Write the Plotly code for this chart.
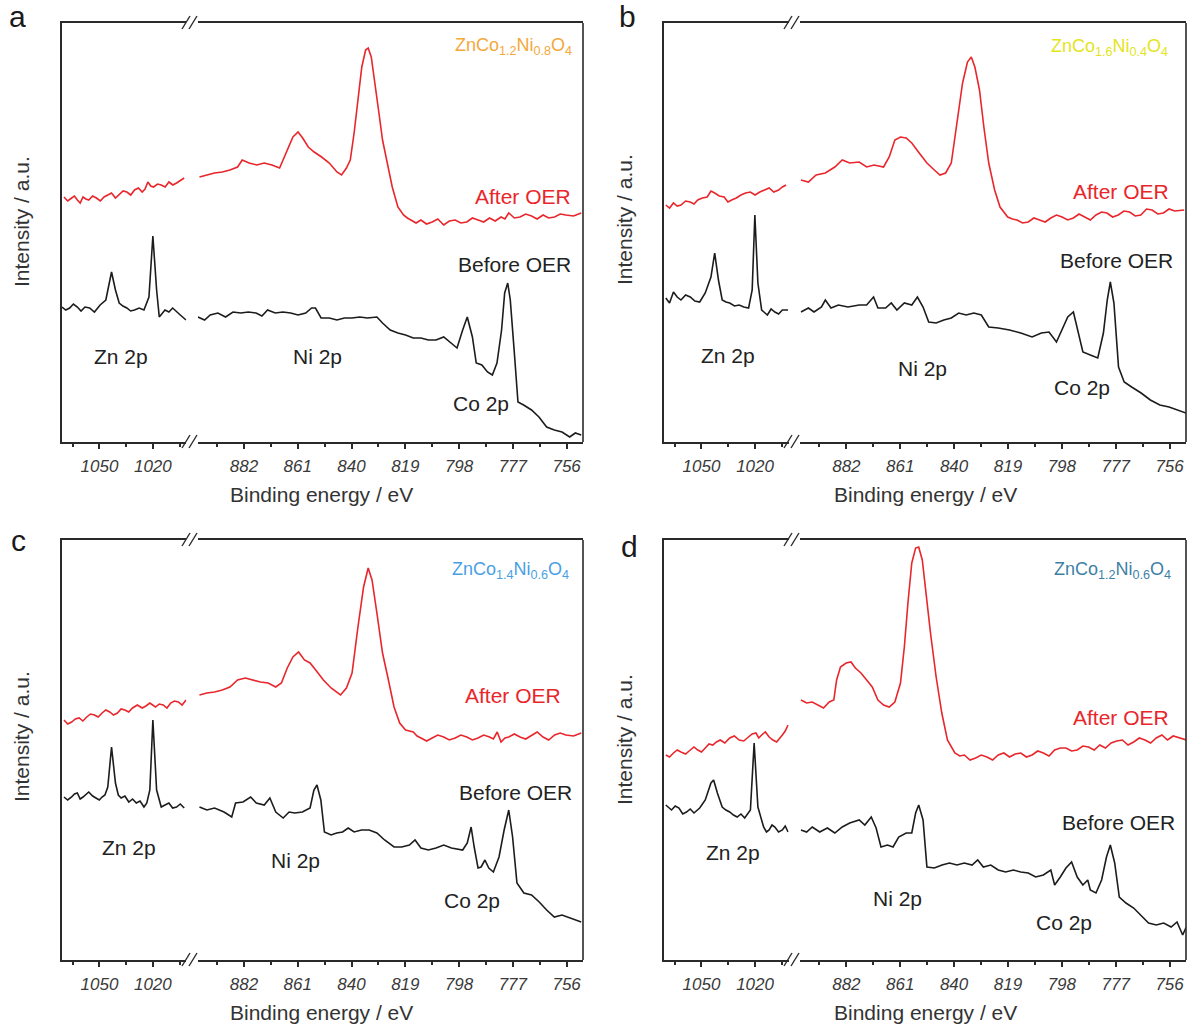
import plotly.graph_objects as go

W, H = 1189, 1027

# ---------------- data (binding energy in eV, intensity in a.u.) ----------------
TICKS_LEFT = [1050, 1020]
TICKS_RIGHT = [882, 861, 840, 819, 798, 777, 756]
MINOR_LEFT = [1065, 1035, 1005]
MINOR_RIGHT = [892.5, 871.5, 850.5, 829.5, 808.5, 787.5, 766.5]

# panel a
A_AFTER_L_E = [1069.9,1067.8,1065.6,1064.0,1062.4,1060.8,1059.2,1057.6,1056.0,1053.8,1051.7,1049.5,1047.4,1045.3,1043.2,1041.0,1038.9,1036.7,1034.6,1032.4,1030.3,1028.1,1026.0,1024.4,1022.8,1021.2,1019.6,1017.4,1015.3,1013.1,1011.0,1008.8,1006.7,1004.5,1002.4]
A_AFTER_L_I = [245,241,244,246,242,239,245,243,242,246,244,241,245,247,249,244,247,251,250,247,252,254,250,253,260,256,255,258,257,255,260,257,259,262,264]
A_AFTER_R_E = [899.4,896.5,893.5,890.5,887.5,884.5,882.7,880.0,877.0,874.1,871.1,868.1,865.1,862.9,860.9,859.1,856.9,854.6,851.7,848.7,845.7,843.9,842.0,840.5,839.0,837.5,836.0,834.5,833.5,832.3,830.8,829.3,827.9,826.4,824.1,821.9,819.7,818.2,816.7,814.8,812.9,810.7,808.5,806.3,804.0,801.8,799.5,797.3,795.0,792.8,790.6,788.4,786.1,783.9,781.6,780.1,778.6,776.4,774.2,772.0,769.7,767.5,765.2,763.0,760.7,758.5,756.3,753.3,750.3]
A_AFTER_R_I = [265,267,269,270,272,275,282,279,277,279,277,274,292,305,310,304,295,290,285,279,270,267,274,282,309,345,375,392,394,385,359,329,302,282,255,235,227,224,222,219,222,218,220,223,217,221,222,219,220,224,222,220,224,221,225,223,229,224,225,228,226,223,227,224,225,228,227,226,229]
A_BEFORE_L_E = [1071.0,1068.9,1066.7,1064.6,1062.4,1060.3,1058.1,1055.5,1052.8,1049.6,1046.4,1043.2,1041.0,1038.9,1036.8,1034.6,1032.5,1030.3,1027.7,1025.0,1022.2,1020.0,1017.9,1016.4,1013.2,1011.0,1008.9,1006.8,1004.6,1001.4]
A_BEFORE_L_I = [135,132,134,138,135,131,135,134,130,137,142,170,152,139,136,134,131,132,134,132,145,206,152,125,132,130,134,131,127,122]
A_BEFORE_R_E = [900.0,897.4,895.2,892.2,889.2,886.3,883.3,880.3,877.3,875.0,872.8,869.8,866.8,863.8,860.9,857.9,855.6,854.1,851.9,848.7,845.7,842.8,839.8,836.8,833.8,830.1,827.9,824.9,821.9,818.9,815.9,812.9,810.0,807.0,804.0,801.8,798.8,796.6,794.8,792.8,791.3,789.1,786.9,785.0,783.2,781.4,780.2,779.0,778.0,776.5,775.0,772.8,769.7,766.8,763.8,760.8,757.8,754.8,752.6,750.3]
A_BEFORE_R_I = [125,122,127,129,125,130,129,130,129,126,132,129,130,129,127,129,134,134,124,124,122,124,124,125,124,125,119,112,109,107,104,104,102,102,105,100,94,112,125,105,79,77,70,67,79,112,149,159,142,92,40,37,32,25,15,12,10,5,9,7]

# panel b
B_AFTER_L_E = [1070.0,1067.9,1065.7,1063.6,1061.5,1058.9,1056.3,1054.2,1052.1,1049.5,1046.8,1044.7,1042.6,1040.0,1037.3,1035.2,1033.1,1030.5,1027.9,1025.3,1022.6,1020.0,1017.3,1014.7,1012.1,1009.5,1006.8,1004.7,1002.6]
B_AFTER_L_I = [237,234,239,236,237,241,240,238,242,244,245,251,249,246,245,240,242,244,247,249,250,247,250,252,254,250,252,255,257]
B_AFTER_R_E = [899.7,896.8,893.8,890.2,886.5,883.6,880.7,877.0,874.1,871.2,867.5,865.3,863.1,860.9,858.7,856.5,853.6,850.6,847.7,845.5,843.3,841.1,838.9,836.7,834.8,833.3,831.9,830.1,828.4,826.5,824.2,822.1,819.1,817.3,815.5,813.3,811.1,808.9,806.7,804.5,802.3,800.1,797.9,795.7,793.5,791.3,789.1,786.9,784.7,782.5,780.4,778.2,776.0,773.8,771.6,769.4,767.2,765.0,762.8,760.6,758.4,756.2,754.0,750.3]
B_AFTER_R_I = [262,260,267,269,275,282,279,280,275,277,275,285,302,305,304,299,289,279,272,267,269,279,319,359,380,385,375,352,315,279,252,235,225,223,222,219,220,224,222,220,224,227,225,222,224,228,225,222,227,230,229,225,227,231,230,226,227,233,232,228,229,233,231,232]
B_BEFORE_L_E = [1070.0,1067.9,1065.7,1063.6,1061.5,1058.9,1056.3,1053.7,1051.0,1047.9,1044.7,1042.6,1040.5,1038.4,1036.3,1034.2,1031.5,1028.9,1026.3,1023.6,1021.6,1020.1,1018.4,1016.3,1013.1,1011.0,1008.9,1006.8,1004.7,1001.5]
B_BEFORE_L_I = [144,139,150,145,142,147,145,141,140,149,165,189,162,142,140,139,136,137,135,134,152,227,159,132,127,133,130,128,132,132]
B_BEFORE_R_E = [899.7,896.8,894.6,891.7,890.2,888.0,885.1,881.4,877.0,874.1,871.4,869.7,866.7,864.5,862.3,859.4,856.5,854.3,852.1,849.9,847.0,844.0,841.1,838.2,835.3,832.3,829.4,826.5,822.8,818.4,814.0,809.6,806.0,803.0,800.1,797.9,795.7,793.5,791.7,789.8,786.9,784.0,781.8,780.3,779.1,777.7,775.9,773.7,770.8,767.1,763.5,759.8,756.2,752.5,749.6]
B_BEFORE_R_I = [130,134,130,135,142,134,137,135,137,137,145,134,134,139,132,139,137,145,135,120,119,122,124,129,127,129,127,115,114,112,109,105,109,110,100,112,125,130,112,90,87,84,109,142,160,139,75,60,55,49,42,37,35,32,29]

# panel c
C_AFTER_L_E = [1069.9,1067.8,1065.6,1063.5,1061.4,1059.3,1057.1,1055.0,1052.8,1050.7,1048.5,1046.4,1044.2,1042.1,1039.9,1037.8,1035.7,1033.6,1031.4,1028.7,1026.0,1023.9,1021.7,1020.1,1018.5,1016.4,1014.2,1012.1,1010.0,1007.9,1005.7,1003.6,1001.4]
C_AFTER_L_I = [240,236,238,241,242,239,243,246,245,243,247,250,248,245,247,251,250,248,252,255,252,254,257,255,253,256,255,252,257,259,258,255,260]
C_AFTER_R_E = [899.4,896.5,893.5,890.5,887.5,884.5,881.5,878.6,875.6,872.6,869.6,867.4,865.1,862.9,860.7,858.4,856.2,854.0,851.0,848.0,844.3,842.0,839.8,837.5,835.3,833.5,832.0,830.1,827.9,825.6,823.4,821.2,818.9,815.9,814.4,812.9,810.7,808.5,806.3,804.0,801.8,799.5,797.3,795.0,792.8,790.6,788.4,786.1,784.6,783.1,781.6,780.1,778.6,776.4,774.2,772.0,769.7,767.5,765.2,763.0,760.7,758.5,756.3,753.3,750.3]
C_AFTER_R_I = [265,267,268,270,273,280,282,280,278,277,273,277,292,303,308,300,297,290,280,272,265,272,287,333,373,392,380,347,307,280,253,237,230,228,224,222,219,222,225,223,220,222,225,223,220,222,225,223,221,228,218,222,223,226,223,221,225,228,223,220,225,227,225,224,227]
C_BEFORE_L_E = [1069.9,1067.8,1065.6,1064.0,1062.4,1060.8,1059.2,1057.6,1056.0,1053.8,1051.7,1050.1,1048.5,1046.9,1045.3,1043.2,1041.0,1039.4,1037.8,1035.7,1033.5,1031.4,1029.3,1027.2,1025.0,1023.4,1021.7,1020.0,1017.9,1016.6,1015.3,1013.2,1011.0,1008.9,1006.7,1004.6,1002.4]
C_BEFORE_L_I = [163,160,163,166,167,161,163,166,168,164,162,160,163,165,173,213,177,165,162,164,158,161,157,159,153,157,170,240,170,162,153,155,157,152,153,156,152]
C_BEFORE_R_E = [899.4,896.5,893.5,889.8,886.8,885.3,882.4,879.4,877.2,874.1,871.9,869.6,866.7,864.4,862.2,859.2,856.2,854.7,853.5,852.0,850.6,848.0,845.8,843.5,841.3,839.0,836.1,833.1,830.1,827.1,823.4,820.4,817.4,815.2,812.9,810.0,807.0,804.0,801.0,796.6,794.8,793.3,792.1,790.6,789.4,787.9,786.4,784.6,782.4,780.4,778.6,777.1,775.4,772.7,769.7,766.7,763.8,760.8,757.8,754.8,750.3]
C_BEFORE_R_I = [153,150,152,148,143,157,158,163,157,155,162,148,142,148,147,148,152,170,175,160,128,125,127,128,132,128,130,130,127,120,113,113,115,120,112,110,112,115,112,110,117,133,113,92,93,100,92,88,103,130,150,123,77,67,65,58,50,43,45,42,38]

# panel d
D_AFTER_L_E = [1070.0,1067.9,1065.7,1063.6,1061.5,1058.9,1056.3,1054.2,1052.1,1050.0,1047.9,1045.8,1043.7,1041.6,1039.5,1036.9,1034.2,1031.6,1028.9,1026.3,1023.7,1021.6,1019.5,1017.9,1016.3,1014.2,1012.1,1010.0,1007.9,1006.3,1004.7,1003.1,1001.5]
D_AFTER_L_I = [205,203,207,210,208,206,210,213,210,208,212,216,215,218,220,217,222,224,220,219,223,226,227,222,225,228,223,220,218,221,225,229,235]
D_AFTER_R_E = [899.7,897.5,895.3,893.1,890.9,888.7,886.9,885.8,884.3,882.1,880.2,878.5,876.3,874.1,871.9,869.7,867.5,865.3,863.1,860.9,859.4,858.0,856.5,855.0,853.8,852.4,850.9,849.2,847.0,844.8,842.6,839.7,837.8,836.0,833.8,831.6,829.4,827.2,825.0,822.8,820.6,818.4,816.2,814.0,811.8,809.6,807.4,805.2,803.0,800.8,798.6,796.4,794.2,792.0,789.8,787.6,785.4,783.2,781.0,778.8,776.6,774.4,772.2,770.0,767.8,765.6,763.4,761.2,759.0,756.8,754.6,752.4,749.5]
D_AFTER_R_I = [260,257,258,255,252,258,260,280,293,297,298,292,287,280,273,260,255,253,258,277,313,357,397,412,413,400,363,327,283,247,220,207,204,205,200,202,205,203,200,205,207,203,206,207,203,205,209,207,204,210,212,212,209,210,214,213,210,215,212,217,219,220,215,218,222,220,217,222,225,220,224,222,220]
D_BEFORE_L_E = [1070.0,1066.8,1064.7,1062.6,1060.5,1058.4,1056.3,1054.2,1051.0,1047.9,1044.7,1043.2,1041.1,1038.4,1036.3,1034.2,1032.1,1030.0,1027.9,1025.8,1022.6,1020.5,1018.4,1015.2,1013.6,1012.1,1010.5,1008.9,1006.8,1004.7,1003.1,1001.5]
D_BEFORE_L_I = [155,150,154,152,146,148,151,147,152,160,177,180,167,153,150,148,145,143,146,142,150,217,153,133,128,130,135,133,128,130,134,128]
D_BEFORE_R_E = [899.7,897.5,895.3,892.4,889.4,886.5,883.6,880.7,877.0,874.8,872.3,870.4,868.5,866.0,863.8,861.6,858.7,856.5,855.0,853.8,852.1,850.6,847.7,844.7,841.8,838.9,836.0,833.0,830.8,828.6,825.7,822.8,819.9,816.9,814.0,811.1,808.2,805.2,802.3,800.8,798.6,796.4,794.2,792.0,789.8,787.9,786.9,784.7,782.5,780.6,779.1,777.4,775.6,773.0,770.0,767.1,764.2,761.2,758.3,755.4,753.1,750.9,749.5]
D_BEFORE_R_I = [130,128,133,128,132,127,133,137,140,135,143,132,113,115,113,123,127,127,147,155,140,93,92,95,97,95,97,95,100,93,95,90,88,90,88,87,83,85,90,75,83,92,98,83,75,80,70,67,80,103,115,97,63,57,52,45,37,35,37,33,38,25,33]

COMPOUNDS = ["ZnCo<sub>1.2</sub>Ni<sub>0.8</sub>O<sub>4</sub>",
             "ZnCo<sub>1.6</sub>Ni<sub>0.4</sub>O<sub>4</sub>",
             "ZnCo<sub>1.4</sub>Ni<sub>0.6</sub>O<sub>4</sub>",
             "ZnCo<sub>1.2</sub>Ni<sub>0.6</sub>O<sub>4</sub>"]
PANEL_LETTERS = ["a", "b", "c", "d"]

SERIES = [
    (A_AFTER_L_E, A_AFTER_L_I, A_AFTER_R_E, A_AFTER_R_I, A_BEFORE_L_E, A_BEFORE_L_I, A_BEFORE_R_E, A_BEFORE_R_I),
    (B_AFTER_L_E, B_AFTER_L_I, B_AFTER_R_E, B_AFTER_R_I, B_BEFORE_L_E, B_BEFORE_L_I, B_BEFORE_R_E, B_BEFORE_R_I),
    (C_AFTER_L_E, C_AFTER_L_I, C_AFTER_R_E, C_AFTER_R_I, C_BEFORE_L_E, C_BEFORE_L_I, C_BEFORE_R_E, C_BEFORE_R_I),
    (D_AFTER_L_E, D_AFTER_L_I, D_AFTER_R_E, D_AFTER_R_I, D_BEFORE_L_E, D_BEFORE_L_I, D_BEFORE_R_E, D_BEFORE_R_I),
]

# ---------------- layout / style ----------------
FONT = "Arial, 'Liberation Sans', sans-serif"
RED = "#e8262b"
BLACK = "#1c1c1c"
AXC = "#2a2a2a"
COMP_COLORS = ["#f2a93b", "#e4e41c", "#4a9fe3", "#3d7fa6"]

# panel boxes in pixels: x0, y0 (top), x1, y1 (bottom)
BOXES = [(62, 23, 583, 442), (664, 23, 1186, 442), (62, 540, 583, 960), (664, 540, 1186, 960)]
LEFT_RANGE = [1071, 1001.2]
RIGHT_RANGE = [900, 749.6]
LEFT_FRAC = 0.2387
RIGHT_FRAC = 0.2609

# label positions (pixels)
LABELS = [
    dict(letter=(17, 16), comp=(574, 47), after=(573, 196), before=(573, 265),
         zn=(121, 356), ni=(317, 356), co=(481, 403), xt=(322, 494), yt=(21, 222)),
    dict(letter=(627, 16), comp=(1170, 48), after=(1171, 192), before=(1175, 260),
         zn=(728, 355), ni=(922, 368), co=(1082, 387), xt=(925, 494), yt=(624, 220)),
    dict(letter=(18, 540), comp=(571, 570), after=(563, 695), before=(574, 792),
         zn=(129, 847), ni=(295, 860), co=(472, 900), xt=(322, 1012), yt=(21, 737)),
    dict(letter=(629, 546), comp=(1173, 570), after=(1171, 717), before=(1177, 822),
         zn=(733, 852), ni=(897, 898), co=(1064, 922), xt=(925, 1012), yt=(624, 740)),
]


def fx(px):
    return px / W


def fy(py):
    return 1 - py / H


fig = go.Figure()
layout = dict(width=W, height=H, margin=dict(l=0, r=0, t=0, b=0),
              paper_bgcolor="white", plot_bgcolor="white", showlegend=False,
              font=dict(family=FONT, color="#222"), hovermode=False)
shapes = []
annotations = []

for p in range(4):
    x0, y0, x1, y1 = BOXES[p]
    bw = x1 - x0
    nl, nr, ny = 2 * p + 1, 2 * p + 2, p + 1
    xl_ref = "x" if nl == 1 else f"x{nl}"
    xr_ref = f"x{nr}"
    y_ref = "y" if ny == 1 else f"y{ny}"
    xl_key = "xaxis" if nl == 1 else f"xaxis{nl}"
    xr_key = f"xaxis{nr}"
    y_key = "yaxis" if ny == 1 else f"yaxis{ny}"

    (aLE, aLI, aRE, aRI, bLE, bLI, bRE, bRI) = SERIES[p]
    for xs, ys, xr, col in [(aLE, aLI, xl_ref, RED), (aRE, aRI, xr_ref, RED),
                            (bLE, bLI, xl_ref, BLACK), (bRE, bRI, xr_ref, BLACK)]:
        fig.add_trace(go.Scatter(x=xs, y=ys, xaxis=xr, yaxis=y_ref, mode="lines",
                                 line=dict(color=col, width=1.6), hoverinfo="skip"))

    common_x = dict(showline=True, mirror=True, linecolor=AXC, linewidth=1.6,
                    ticks="outside", ticklen=5, tickwidth=1.5, tickcolor=AXC,
                    tickfont=dict(family=FONT, size=17, color="#3a3a3a", style="italic"),
                    showgrid=False, zeroline=False, fixedrange=True, anchor=y_ref,
                    ticklabelstandoff=3)
    layout[xl_key] = dict(common_x, domain=[fx(x0), fx(x0 + LEFT_FRAC * bw)], range=LEFT_RANGE,
                          tickmode="array", tickvals=TICKS_LEFT, ticktext=[str(t) for t in TICKS_LEFT],
                          minor=dict(tickmode="array", tickvals=MINOR_LEFT, ticks="outside",
                                     ticklen=3, tickwidth=1.5, tickcolor=AXC))
    layout[xr_key] = dict(common_x, domain=[fx(x0 + RIGHT_FRAC * bw), fx(x1)], range=RIGHT_RANGE,
                          tickmode="array", tickvals=TICKS_RIGHT, ticktext=[str(t) for t in TICKS_RIGHT],
                          minor=dict(tickmode="array", tickvals=MINOR_RIGHT, ticks="outside",
                                     ticklen=3, tickwidth=1.5, tickcolor=AXC))
    layout[y_key] = dict(domain=[fy(y1), fy(y0)], range=[0, y1 - y0], anchor=xl_ref,
                         showline=True, linecolor=AXC, linewidth=1.6, ticks="",
                         showticklabels=False, showgrid=False, zeroline=False, fixedrange=True)

    # right frame line
    shapes.append(dict(type="line", xref="paper", yref="paper", x0=fx(x1), x1=fx(x1),
                       y0=fy(y1), y1=fy(y0), line=dict(color=AXC, width=1.6)))
    # axis break marks (top and bottom)
    for yb in (y0, y1):
        for dx in (120, 127):
            shapes.append(dict(type="line", xref="paper", yref="paper",
                               x0=fx(x0 + dx), y0=fy(yb + 6), x1=fx(x0 + dx + 8), y1=fy(yb - 7),
                               line=dict(color=AXC, width=1.4)))

    L = LABELS[p]

    def ann(text, pos, size, color, xanchor="center", angle=0):
        annotations.append(dict(text=text, x=fx(pos[0]), y=fy(pos[1]), xref="paper", yref="paper",
                                xanchor=xanchor, yanchor="middle", showarrow=False, textangle=angle,
                                font=dict(family=FONT, size=size, color=color)))

    ann(PANEL_LETTERS[p], L["letter"], 30, "#1a1a1a")
    ann(COMPOUNDS[p], L["comp"], 18, COMP_COLORS[p], xanchor="right")
    ann("After OER", L["after"], 21, RED, xanchor="right")
    ann("Before OER", L["before"], 21, "#222", xanchor="right")
    ann("Zn 2p", L["zn"], 21, "#222")
    ann("Ni 2p", L["ni"], 21, "#222")
    ann("Co 2p", L["co"], 21, "#222")
    ann("Binding energy / eV", L["xt"], 21, "#333")
    ann("Intensity / a.u.", L["yt"], 21, "#333", angle=-90)

layout["shapes"] = shapes
layout["annotations"] = annotations
fig.update_layout(**layout)
fig.write_html("out.html", config={"displayModeBar": False},
               post_script="document.body.style.margin='0';document.body.style.overflow='hidden';")
